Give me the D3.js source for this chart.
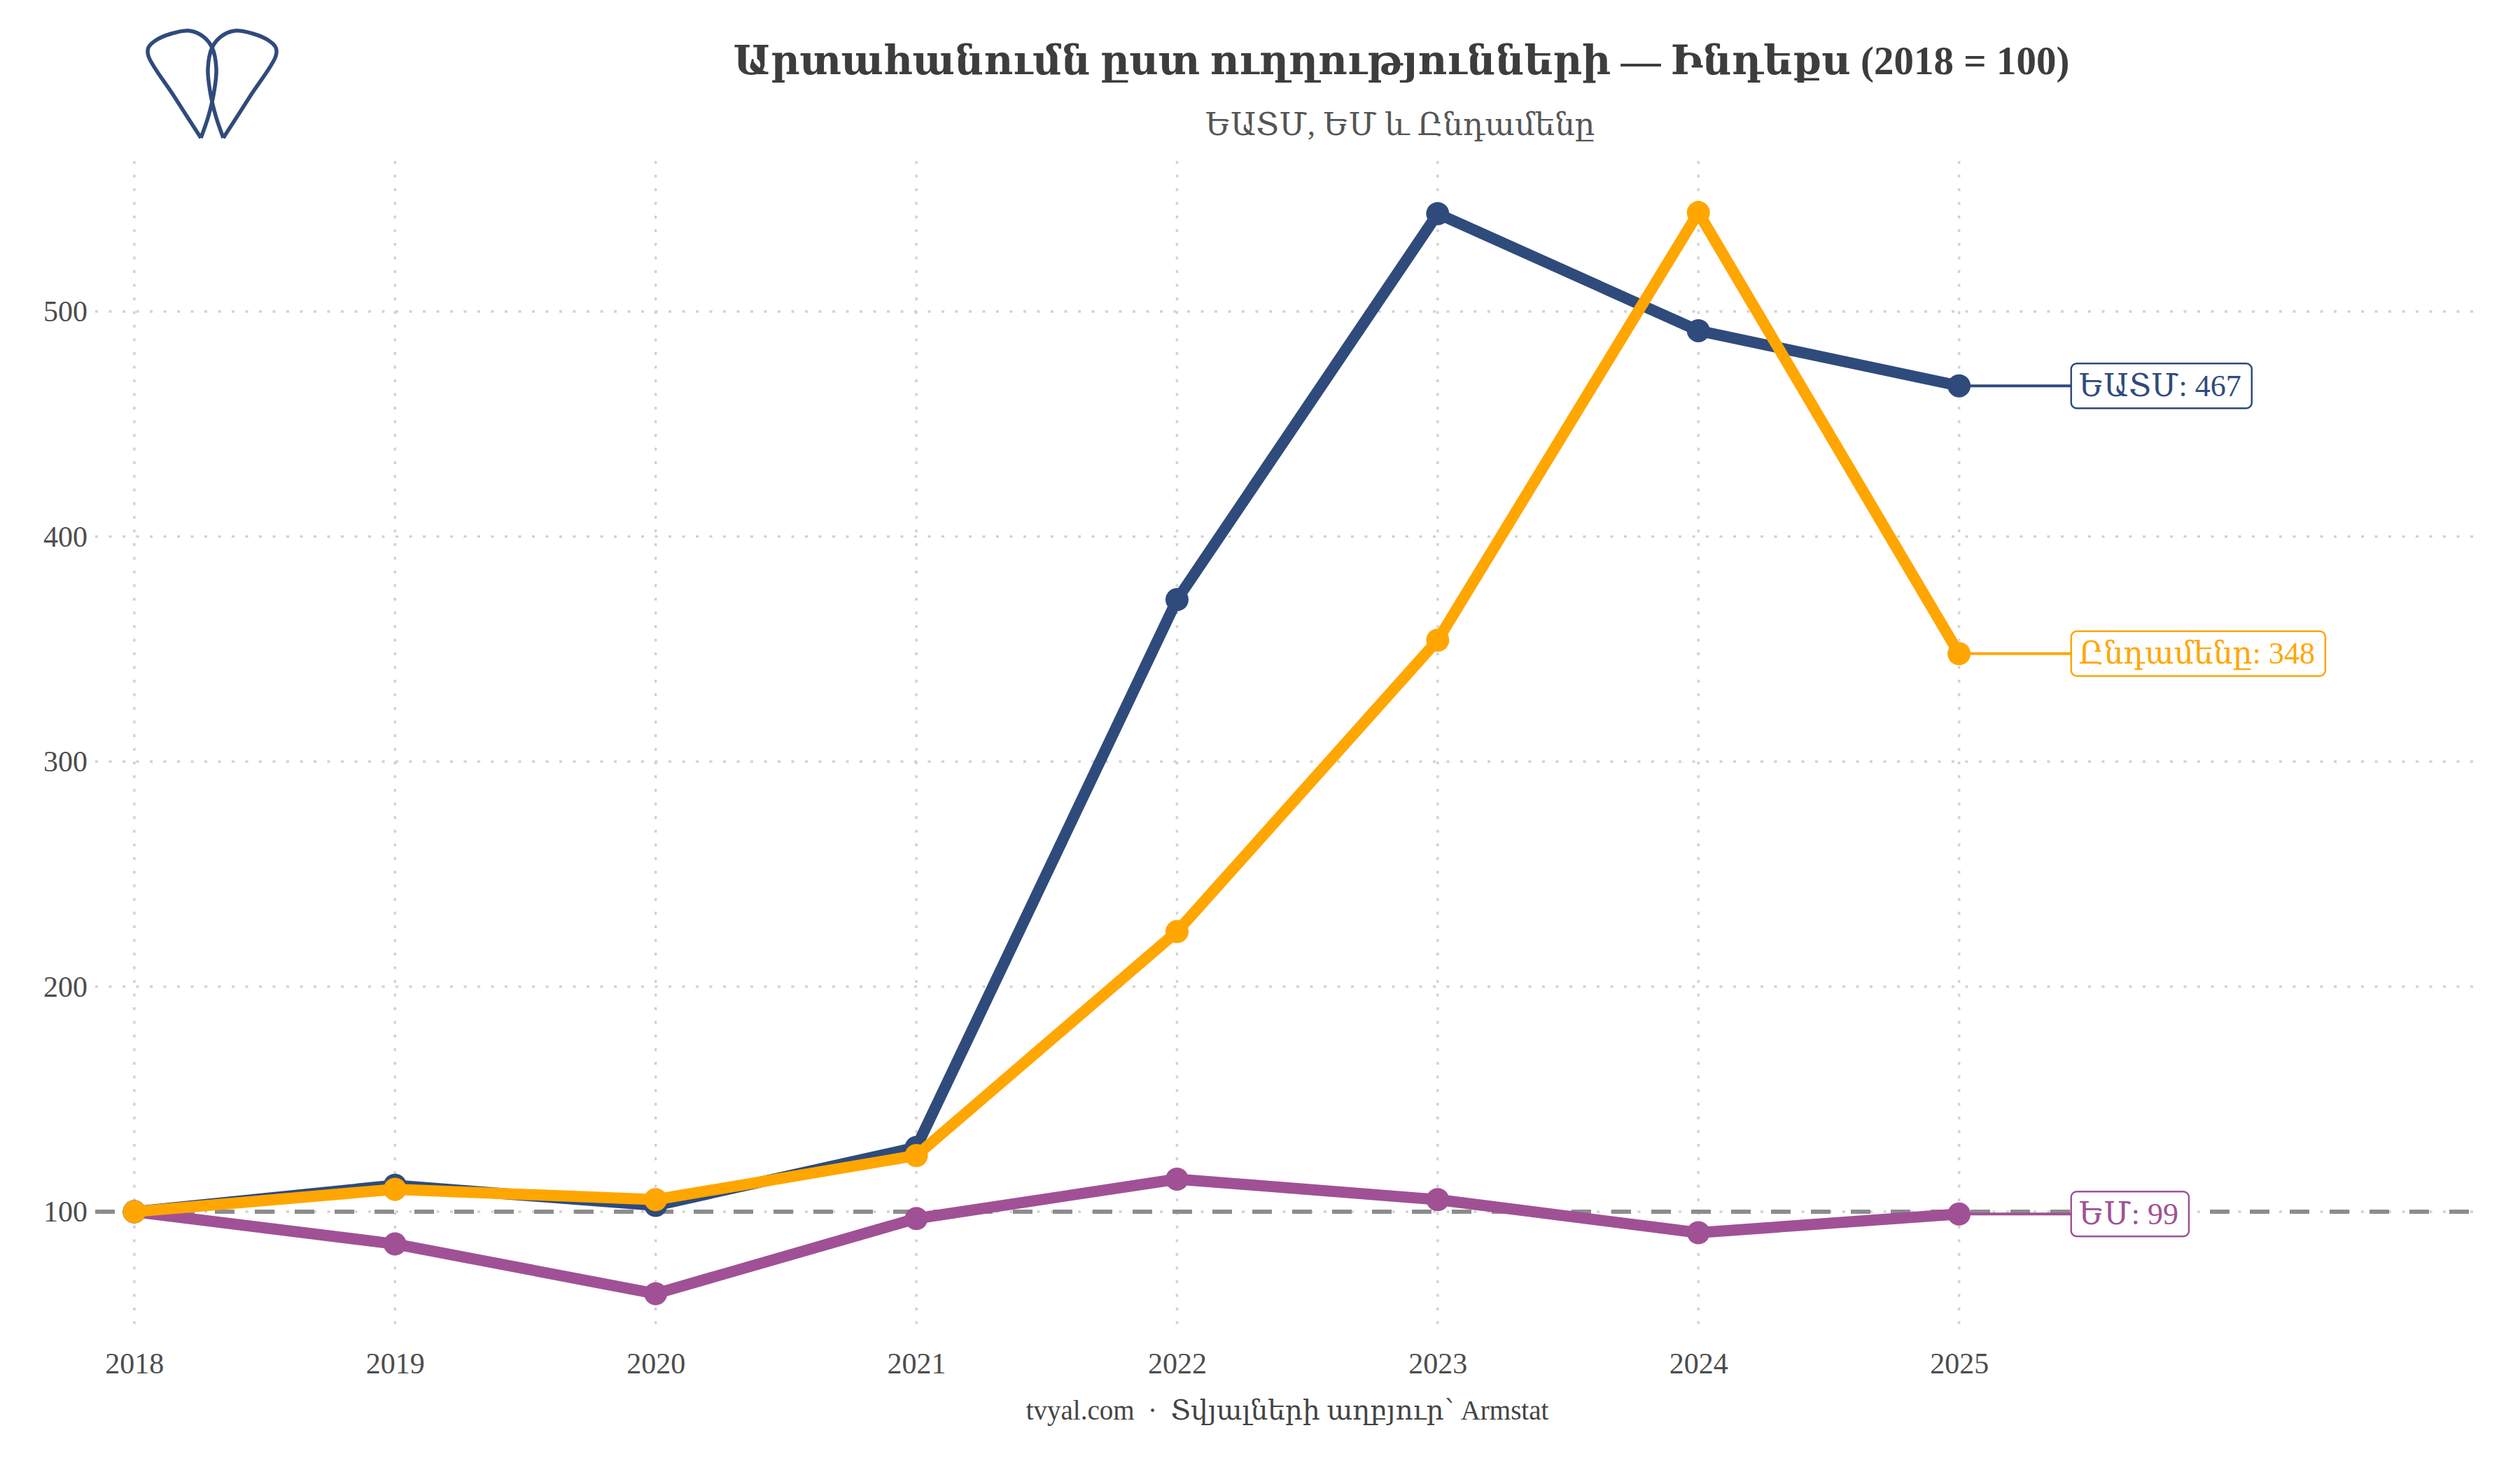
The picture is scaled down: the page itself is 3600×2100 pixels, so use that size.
<!DOCTYPE html>
<html>
<head>
<meta charset="utf-8">
<script src="https://cdn.jsdelivr.net/npm/d3@7"></script>
<style>
  html, body { margin: 0; padding: 0; background: #fff; }
  svg { display: block; }
  text { font-family: "Liberation Serif", "DejaVu Serif", serif; }
</style>
</head>
<body>
<svg id="chart" width="3600" height="2100"></svg>
<script>
// ---------------- data ----------------
const years = [2018, 2019, 2020, 2021, 2022, 2023, 2024, 2025];
const seriesNames = ["ԵՄ", "ԵԱՏՄ", "Ընդամենը"];
const seriesColors = ["#a05195", "#2f4b7c", "#ffa600"];
const euValues    = [100, 85.7, 63.6, 97, 114.5, 105.4, 90.7, 99];
const eaeuValues  = [100, 111.8, 102.8, 128.6, 372, 543.5, 491.5, 467];
const totalValues = [100, 110, 105.4, 125, 224.5, 354, 544, 348];
const yTicks = [100, 200, 300, 400, 500];
const titleText = "Արտահանումն ըստ ուղղությունների — Ինդեքս (2018 = 100)";
const subtitleText = "ԵԱՏՄ, ԵՄ և Ընդամենը";
const captionText = "tvyal.com\u00a0\u00a0·\u00a0\u00a0Տվյալների աղբյուր՝ Armstat";
const referenceValue = 100;

const seriesValues = [euValues, eaeuValues, totalValues];

// ---------------- layout ----------------
const svg = d3.select("#chart");
const x = d3.scaleLinear().domain([2017.85, 2026.98]).range([136, 3536]);
const y = d3.scaleLinear().domain([45.6, 566.9]).range([1906, 230]);

const gridColor = "#d2d2d2";
const textColor = "#4d4d4d";

// grid lines
const grid = svg.append("g");
grid.selectAll("line.h").data(yTicks).join("line")
  .attr("x1", x.range()[0]).attr("x2", x.range()[1])
  .attr("y1", d => y(d)).attr("y2", d => y(d))
  .attr("stroke", gridColor).attr("stroke-width", 3.5)
  .attr("stroke-dasharray", "4,15.5");
grid.selectAll("line.v").data(years).join("line")
  .attr("x1", d => x(d)).attr("x2", d => x(d))
  .attr("y1", y.range()[1]).attr("y2", y.range()[0])
  .attr("stroke", gridColor).attr("stroke-width", 3.5)
  .attr("stroke-dasharray", "4,15.5");

// y axis labels
const yAxis = d3.axisLeft(y).tickValues(yTicks).tickSize(0).tickPadding(0);
const yg = svg.append("g").attr("transform", "translate(125,0)").call(yAxis);
yg.select(".domain").remove();
yg.selectAll("text").attr("font-size", 42).attr("fill", textColor)
  .attr("font-family", "'Liberation Serif', 'DejaVu Serif', serif");

// x axis labels
const xAxis = d3.axisBottom(x).tickValues(years).tickFormat(d3.format("d")).tickSize(0).tickPadding(0);
const xg = svg.append("g").attr("transform", "translate(0,1932)").call(xAxis);
xg.select(".domain").remove();
xg.selectAll("text").attr("font-size", 42).attr("fill", textColor)
  .attr("font-family", "'Liberation Serif', 'DejaVu Serif', serif");

// reference line
svg.append("line")
  .attr("x1", x.range()[0]).attr("x2", x.range()[1])
  .attr("y1", y(referenceValue)).attr("y2", y(referenceValue))
  .attr("stroke", "#8c8c8c").attr("stroke-width", 6)
  .attr("stroke-dasharray", "28,29");

// series
const line = d3.line().x((d, i) => x(years[i])).y(d => y(d));
const order = [0, 1, 2];
order.forEach(k => {
  const g = svg.append("g");
  g.append("path").datum(seriesValues[k])
    .attr("d", line).attr("fill", "none")
    .attr("stroke", seriesColors[k]).attr("stroke-width", 16)
    .attr("stroke-linejoin", "round").attr("stroke-linecap", "round");
  g.selectAll("circle").data(seriesValues[k]).join("circle")
    .attr("cx", (d, i) => x(years[i])).attr("cy", d => y(d))
    .attr("r", 16.5).attr("fill", seriesColors[k]);
});

// end labels
const lastIdx = years.length - 1;
const labelX = 2025.43;
order.forEach(k => {
  const v = seriesValues[k][lastIdx];
  const cx = x(years[lastIdx]), cy = y(v);
  const g = svg.append("g");
  g.append("line").attr("x1", cx).attr("x2", x(labelX)).attr("y1", cy).attr("y2", cy)
    .attr("stroke", seriesColors[k]).attr("stroke-width", 4);
  const rect = g.append("rect");
  const t = g.append("text")
    .attr("x", x(labelX) + 11).attr("y", cy)
    .attr("dominant-baseline", "central")
    .attr("font-size", 44).attr("fill", seriesColors[k])
    .text(`${seriesNames[k]}: ${Math.round(v)}`);
  const bb = t.node().getBBox();
  rect.attr("x", x(labelX)).attr("y", cy - 32)
    .attr("width", bb.width + 26).attr("height", 64)
    .attr("rx", 8).attr("ry", 8)
    .attr("fill", "#fff").attr("stroke", seriesColors[k]).attr("stroke-width", 2.5);
});

// title, subtitle, caption
svg.append("text").attr("x", 2002).attr("y", 106).attr("text-anchor", "middle")
  .attr("font-size", 57).attr("font-weight", "bold").attr("fill", "#3d3d3d")
  .text(titleText);
svg.append("text").attr("x", 2000).attr("y", 193).attr("text-anchor", "middle")
  .attr("font-size", 45).attr("fill", "#555").text(subtitleText);
svg.append("text").attr("x", 1839).attr("y", 2028).attr("text-anchor", "middle")
  .attr("font-size", 39).attr("fill", "#444").text(captionText);

// logo
const logoPts = [[287,197],[249,138],[212,80],[212,68],[222,58],[245,48],[271,44],[290,52],[303,68],[309,98],[306,130],[298,165],[287,197]];
const logoLine = d3.line().curve(d3.curveCatmullRom.alpha(0.5));
const logo = svg.append("g");
logo.append("path").attr("d", logoLine(logoPts))
  .attr("fill", "none").attr("stroke", "#2f4b7c").attr("stroke-width", 5.5).attr("stroke-linejoin", "round");
logo.append("path").attr("d", logoLine(logoPts))
  .attr("transform", "translate(606,0) scale(-1,1)")
  .attr("fill", "none").attr("stroke", "#2f4b7c").attr("stroke-width", 5.5).attr("stroke-linejoin", "round");
</script>
</body>
</html>
